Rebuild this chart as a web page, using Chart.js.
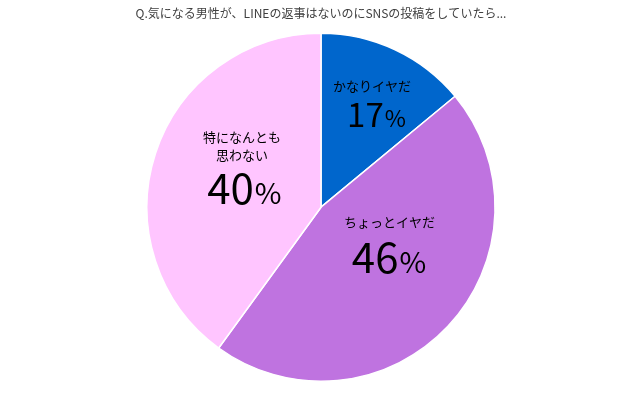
<!DOCTYPE html>
<html>
<head>
<meta charset="utf-8">
<script src="https://cdn.jsdelivr.net/npm/chart.js@4/dist/chart.umd.min.js"></script>
<style>
  html, body { margin: 0; padding: 0; background: #fff; }
  #wrap { width: 642px; height: 393px; }
</style>
</head>
<body>
<div id="wrap"><canvas id="c" width="642" height="393"></canvas></div>
<script>
// データ
const categories = ['かなりイヤだ', 'ちょっとイヤだ', '特になんとも\n思わない']
const sliceValues = [14, 46, 40] // 図の扇形の大きさ
const percentLabels = ['17', '46', '40'] // 図に書かれている数値
const colors = ['#0066CC', '#BF73E0', '#FFC5FF']

// ラベル位置 (半径に対する比率, 数値のベースライン中心)
const labelPos = [
    {fx: 0.316, fy: -0.46, gap: 41, lx: -4, num: 33, pct: 23},
    {fx: 0.388, fy: 0.379, gap: 51, lx: 1, num: 42, pct: 29},
    {fx: -0.443, fy: -0.017, gap: 49, lx: -2, num: 42, pct: 29}
]

const FONT = '"Noto Sans CJK JP", "Noto Sans", sans-serif'

const labelPlugin = {
    id: 'sliceLabels',
    afterDatasetsDraw(chart) {
        const ctx = chart.ctx
        const arcs = chart.getDatasetMeta(0).data
        ctx.save()
        ctx.fillStyle = '#000'
        arcs.forEach((arc, i) => {
            const p = labelPos[i]
            const cx = arc.x + p.fx * arc.outerRadius
            const baseY = arc.y + p.fy * arc.outerRadius

            // 数値 + %
            ctx.textBaseline = 'alphabetic'
            ctx.textAlign = 'left'
            ctx.font = p.num + 'px ' + FONT
            const numW = ctx.measureText(percentLabels[i]).width
            ctx.font = p.pct + 'px ' + FONT
            const pctW = ctx.measureText('%').width
            const startX = cx - (numW + pctW) / 2
            ctx.font = p.num + 'px ' + FONT
            ctx.fillText(percentLabels[i], startX, baseY)
            ctx.font = p.pct + 'px ' + FONT
            ctx.fillText('%', startX + numW + 1, baseY)

            // カテゴリ名
            ctx.font = '13px ' + FONT
            ctx.textAlign = 'center'
            ctx.textBaseline = 'middle'
            const lines = categories[i].split('\n')
            lines.forEach((line, k) => {
                const y = baseY - p.gap - (lines.length - 1 - k) * 18
                ctx.fillText(line, cx + p.lx, y)
            })
        })
        ctx.restore()
    }
}

new Chart(document.getElementById('c'), {
    type: 'pie',
    data: {
        labels: categories,
        datasets: [{
            data: sliceValues,
            backgroundColor: colors,
            borderColor: '#fff',
            borderWidth: 1.5
        }]
    },
    options: {
        responsive: false,
        animation: false,
        layout: {padding: {top: 0, bottom: 11, left: 0, right: 0}},
        plugins: {
            legend: {display: false},
            tooltip: {enabled: false},
            title: {
                display: true,
                text: 'Q.気になる男性が、LINEの返事はないのにSNSの投稿をしていたら...',
                color: '#404040',
                font: {family: FONT, size: 12, weight: 'normal', lineHeight: 1.2},
                padding: {top: 6, bottom: 12}
            }
        }
    },
    plugins: [labelPlugin]
})
</script>
</body>
</html>
